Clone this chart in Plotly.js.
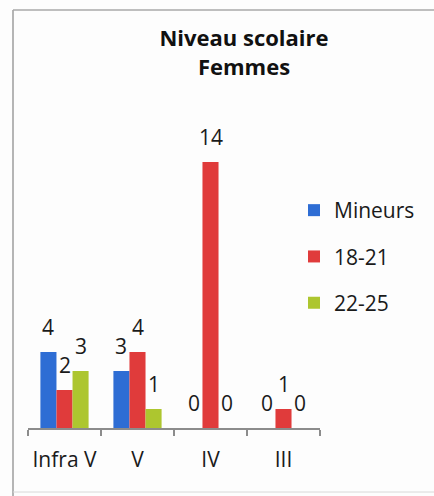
<!DOCTYPE html>
<html>
<head>
<meta charset="utf-8">
<script src="https://cdn.plot.ly/plotly-3.0.1.min.js"></script>
<style>
html,body{margin:0;padding:0;background:#fdfdfd;}
#chart{width:434px;height:496px;}
</style>
</head>
<body>
<div id="chart"></div>
<script>
// ---- data ----
const categories = ["Infra V", "V", "IV", "III"];
const seriesNames = ["Mineurs", "18-21", "22-25"];
const mineurs = [4, 3, 0, 0];
const age18_21 = [2, 4, 14, 1];
const age22_25 = [3, 1, 0, 0];
const titleLine1 = "Niveau scolaire";
const titleLine2 = "Femmes";

// ---- style ----
const seriesValues = [mineurs, age18_21, age22_25];
const colors = ["#2e6dd4", "#e03b3b", "#adc62f"];
const W = 434, H = 496;
const M = {l: 28, r: 114, t: 143, b: 68};
const bargap = 0.34;
const FONT = "Open Sans, Liberation Sans, sans-serif";

const traces = seriesNames.map((name, j) => ({
  type: "bar",
  name: name,
  x: categories,
  y: seriesValues[j],
  marker: {color: colors[j]},
  legendgroup: "g" + j,
  hoverinfo: "none"
}));

// data labels placed through the axis scales
const nS = seriesNames.length;
const bw = (1 - bargap) / nS;
const annotations = [];
seriesValues.forEach((vals, j) => {
  vals.forEach((v, i) => {
    annotations.push({
      xref: "x", yref: "y",
      x: i + (j - (nS - 1) / 2) * bw,
      y: v,
      text: String(v),
      showarrow: false,
      yanchor: "middle",
      xanchor: "center",
      yshift: 25,
      font: {family: FONT, size: 21, color: "#1a1a1a"}
    });
  });
});

// frame lines (scanned chart border), in paper coords derived from margins
const pw = W - M.l - M.r, ph = H - M.t - M.b;
const px = p => (p - M.l) / pw;
const py = p => (H - M.b - p) / ph;
const shapes = [
  {type: "line", xref: "paper", yref: "paper", x0: px(13), x1: px(13), y0: py(10), y1: py(496), line: {color: "#9c9c9c", width: 1.5}},
  {type: "line", xref: "paper", yref: "paper", x0: px(13), x1: px(434), y0: py(10), y1: py(10), line: {color: "#a8a8a8", width: 1.5}},
  {type: "line", xref: "paper", yref: "paper", x0: px(13), x1: px(434), y0: py(492), y1: py(492), line: {color: "#d8d8d8", width: 1}}
];

const layout = {
  width: W, height: H,
  margin: M,
  paper_bgcolor: "#fdfdfd",
  plot_bgcolor: "rgba(0,0,0,0)",
  barmode: "group",
  bargap: bargap,
  bargroupgap: 0,
  font: {family: FONT, color: "#1a1a1a"},
  title: {
    text: "<b>" + titleLine1 + "<br>" + titleLine2 + "</b>",
    xref: "container", yref: "container",
    x: 244 / W, xanchor: "center",
    y: 1 - 46 / H, yanchor: "top",
    font: {family: FONT, size: 22, color: "#111"}
  },
  showlegend: true,
  legend: {
    x: px(294), xanchor: "left",
    y: py(190), yanchor: "top",
    traceorder: "grouped",
    tracegroupgap: 16,
    font: {family: FONT, size: 21, color: "#1a1a1a"},
    bgcolor: "rgba(0,0,0,0)"
  },
  xaxis: {
    type: "category",
    showline: true, linecolor: "#8c8c8c", linewidth: 1.5,
    ticks: "outside", tickson: "boundaries", ticklen: 6, tickcolor: "#8c8c8c", tickwidth: 1.5,
    tickangle: 0,
    ticklabelstandoff: 12,
    tickfont: {family: FONT, size: 21, color: "#1a1a1a"},
    showgrid: false, zeroline: false, fixedrange: true
  },
  yaxis: {
    range: [0, 15],
    visible: false,
    showgrid: false, zeroline: false, fixedrange: true
  },
  annotations: annotations,
  shapes: shapes
};

Plotly.newPlot("chart", traces, layout, {displayModeBar: false, staticPlot: true});
</script>
</body>
</html>
